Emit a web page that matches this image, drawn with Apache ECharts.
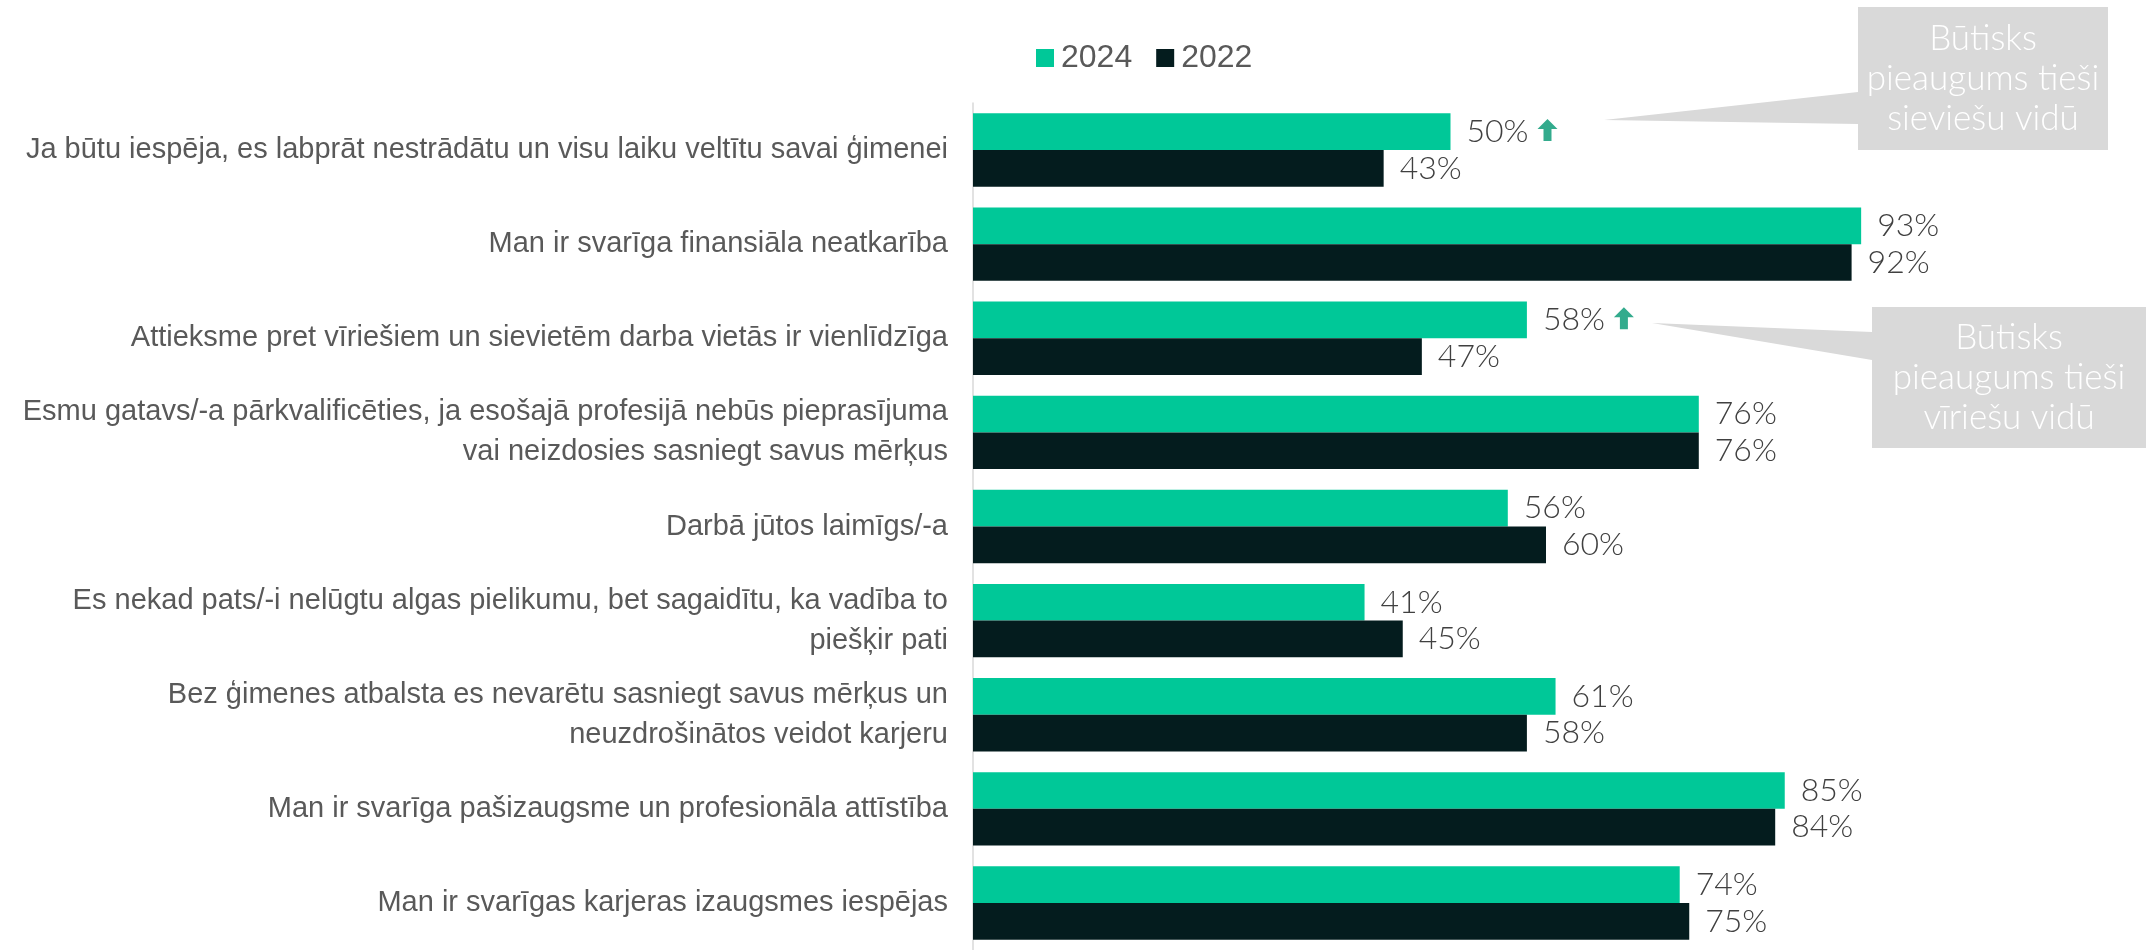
<!DOCTYPE html>
<html>
<head>
<meta charset="utf-8">
<script src="https://cdn.jsdelivr.net/npm/echarts@6/dist/echarts.min.js"></script>
<style>
  html, body { margin: 0; padding: 0; background: #fff; }
  #chart { width: 2146px; height: 950px; }
</style>
</head>
<body>
<div id="chart"></div>
<script>
var categories = [
    "Ja būtu iespēja, es labprāt nestrādātu un visu laiku veltītu savai ģimenei",
    "Man ir svarīga finansiāla neatkarība",
    "Attieksme pret vīriešiem un sievietēm darba vietās ir vienlīdzīga",
    "Esmu gatavs/-a pārkvalificēties, ja esošajā profesijā nebūs pieprasījuma\nvai neizdosies sasniegt savus mērķus",
    "Darbā jūtos laimīgs/-a",
    "Es nekad pats/-i nelūgtu algas pielikumu, bet sagaidītu, ka vadība to\npiešķir pati",
    "Bez ģimenes atbalsta es nevarētu sasniegt savus mērķus un\nneuzdrošinātos veidot karjeru",
    "Man ir svarīga pašizaugsme un profesionāla attīstība",
    "Man ir svarīgas karjeras izaugsmes iespējas"
];
var values2024 = [50, 93, 58, 76, 56, 41, 61, 85, 74];
var values2022 = [43, 92, 47, 76, 60, 45, 58, 84, 75];
// kategorijas ar būtisku pieaugumu (bultiņa)
var significant = [0, 2];
var callouts = [
    "Būtisks\npieaugums tieši\nsieviešu vidū",
    "Būtisks\npieaugums tieši\nvīriešu vidū"
];

var chart = echarts.init(document.getElementById("chart"));

var arrowData = significant.map(function (i) {
    return [values2024[i], i];
});

var valueLabel = {
    show: true,
    position: "right",
    distance: 16,
    fontFamily: "Lato",
    fontWeight: 300,
    fontSize: 32,
    color: "#404040",
    formatter: "{c}%"
};

function callout(box, tip, base, text) {
    return {
        type: "group",
        children: [
            {
                type: "polygon",
                shape: { points: [tip, [box.x, base[0]], [box.x, base[1]]] },
                style: { fill: "#d9d9d9" }
            },
            {
                type: "rect",
                shape: { x: box.x, y: box.y, width: box.w, height: box.h },
                style: { fill: "#d9d9d9" }
            },
            {
                type: "text",
                x: box.x + box.w / 2,
                y: box.y + box.h / 2,
                style: {
                    text: text,
                    fill: "#fff",
                    font: "300 35px Lato",
                    lineHeight: 40,
                    align: "center",
                    verticalAlign: "middle"
                }
            }
        ]
    };
}

var option = {
    backgroundColor: "#fff",
    animation: false,
    legend: {
        data: ["2024", "2022"],
        left: 1031,
        top: 37,
        icon: "rect",
        itemWidth: 18,
        itemHeight: 18,
        itemGap: 24,
        textStyle: {
            fontFamily: "Liberation Sans",
            fontSize: 32,
            color: "#595959",
            padding: [0, 0, 0, 2]
        }
    },
    grid: {
        left: 973,
        top: 103,
        width: 955,
        height: 858
    },
    xAxis: {
        type: "value",
        min: 0,
        max: 100,
        show: false
    },
    yAxis: {
        type: "category",
        inverse: true,
        data: categories,
        axisLine: { show: true, lineStyle: { color: "#d9d9d9", width: 1.5 } },
        axisTick: { show: false },
        axisLabel: {
            margin: 25,
            fontFamily: "Liberation Sans",
            fontSize: 29,
            lineHeight: 40,
            color: "#595959",
            align: "right"
        }
    },
    series: [
        {
            name: "2024",
            type: "bar",
            data: values2024,
            barGap: "0%",
            barCategoryGap: "22%",
            itemStyle: { color: "#00c898" },
            label: valueLabel
        },
        {
            name: "2022",
            type: "bar",
            data: values2022,
            itemStyle: { color: "#041c1e" },
            label: valueLabel
        },
        {
            name: "pieaugums",
            type: "scatter",
            data: arrowData,
            symbol: "path://M10,0 L20,10 L14,10 L14,22 L6,22 L6,10 L0,10 Z",
            symbolSize: [20, 22],
            symbolOffset: [97, -20],
            itemStyle: { color: "#009670" },
            silent: true,
            z: 5
        }
    ],
    graphic: [
        callout({ x: 1858, y: 7, w: 250, h: 143 }, [1604, 120], [92, 124], callouts[0]),
        callout({ x: 1872, y: 307, w: 274, h: 141 }, [1652, 323], [332, 360], callouts[1])
    ]
};
chart.setOption(option);
</script>
</body>
</html>
